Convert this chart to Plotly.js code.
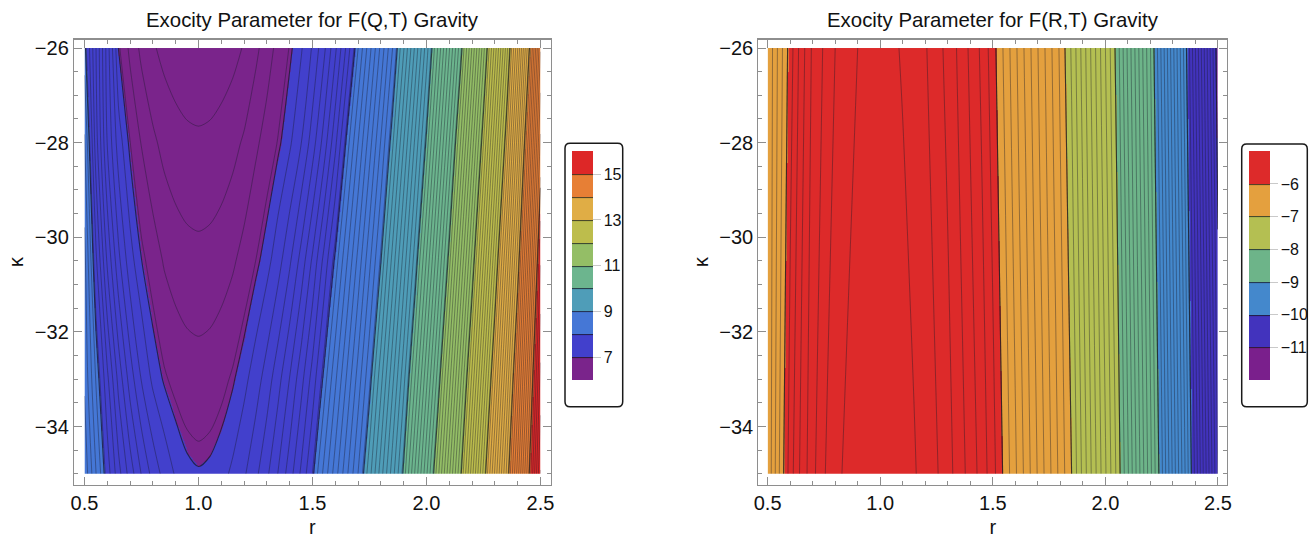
<!DOCTYPE html>
<html>
<head>
<meta charset="utf-8">
<script src="https://cdn.plot.ly/plotly-3.0.1.min.js"></script>
<style>
  html, body { margin: 0; padding: 0; background: #ffffff; }
  #chart { width: 1309px; height: 538px; }
</style>
</head>
<body>
<div id="chart"></div>
<script>
// ---------------- data ----------------
// radial coordinate r (columns of both grids)
const rValues = [0.5, 0.55, 0.6, 0.65, 0.7, 0.75, 0.8, 0.85, 0.9, 0.95, 1.0,
                 1.05, 1.1, 1.15, 1.2, 1.25, 1.3, 1.35, 1.4, 1.45, 1.5,
                 1.55, 1.6, 1.65, 1.7, 1.75, 1.8, 1.85, 1.9, 1.95, 2.0,
                 2.05, 2.1, 2.15, 2.2, 2.25, 2.3, 2.35, 2.4, 2.45, 2.5];

// F(Q,T): exoticity parameter, one row per kappa value
const kappaQT = [-35, -33, -30.5, -28, -26];
const exoQT_k350 = [8.45, 8.18, 7.93, 7.71, 7.53, 7.37, 7.24, 7.14, 7.065, 7.021, 7.007,
                    7.017, 7.046, 7.094, 7.162, 7.25, 7.356, 7.482, 7.628, 7.793, 7.977,
                    8.203, 8.428, 8.653, 8.878, 9.135, 9.429, 9.724, 10.022, 10.39, 10.757,
                    11.142, 11.558, 11.975, 12.439, 12.907, 13.392, 13.882, 14.427, 14.989, 15.583];
const exoQT_k330 = [8.36, 8.07, 7.80, 7.54, 7.33, 7.17, 7.055, 6.989, 6.949, 6.925, 6.917,
                    6.925, 6.949, 6.989, 7.048, 7.126, 7.223, 7.342, 7.48, 7.639, 7.817,
                    8.022, 8.255, 8.488, 8.721, 8.954, 9.242, 9.544, 9.845, 10.18, 10.551,
                    10.922, 11.334, 11.758, 12.203, 12.676, 13.162, 13.673, 14.211, 14.798, 15.41];
const exoQT_k305 = [8.31, 7.90, 7.56, 7.30, 7.115, 7.002, 6.93, 6.866, 6.831, 6.811, 6.804,
                    6.811, 6.829, 6.861, 6.913, 6.975, 7.042, 7.137, 7.26, 7.412, 7.594,
                    7.805, 8.022, 8.265, 8.508, 8.752, 8.995, 9.305, 9.617, 9.928, 10.288,
                    10.663, 11.043, 11.476, 11.909, 12.38, 12.861, 13.384, 13.924, 14.534, 15.167];
const exoQT_k280 = [8.19, 7.725, 7.371, 7.122, 6.978, 6.87, 6.796, 6.746, 6.716, 6.698, 6.692,
                    6.698, 6.717, 6.746, 6.789, 6.855, 6.919, 6.983, 7.059, 7.172, 7.326,
                    7.518, 7.751, 8.021, 8.276, 8.53, 8.785, 9.051, 9.374, 9.696, 10.02,
                    10.399, 10.777, 11.182, 11.625, 12.074, 12.562, 13.06, 13.633, 14.237, 14.897];
const exoQT_k260 = [8.03, 7.68, 7.33, 6.99, 6.851, 6.751, 6.688, 6.647, 6.621, 6.605, 6.600,
                    6.605, 6.618, 6.643, 6.684, 6.750, 6.829, 6.909, 6.981, 7.064, 7.187,
                    7.35, 7.554, 7.799, 8.074, 8.339, 8.603, 8.868, 9.166, 9.497, 9.828,
                    10.183, 10.565, 10.947, 11.387, 11.838, 12.317, 12.812, 13.373, 13.976, 14.667];

// F(R,T): exoticity parameter, one row per kappa value
const kappaRT = [-35, -26];
const exoRT_k350 = [-6.39, -6.11, -5.85, -5.67, -5.53, -5.41, -5.33, -5.28, -5.25, -5.23, -5.22,
                    -5.23, -5.25, -5.29, -5.34, -5.39, -5.46, -5.55, -5.64, -5.74, -5.862,
                    -6.02, -6.183, -6.346, -6.51, -6.673, -6.837, -7.0, -7.229, -7.459, -7.688,
                    -7.917, -8.187, -8.48, -8.772, -9.076, -9.424, -9.771, -10.132, -10.519, -10.907];
const exoRT_k260 = [-6.40, -6.17, -5.95, -5.75, -5.58, -5.49, -5.40, -5.35, -5.30, -5.275, -5.265,
                    -5.28, -5.31, -5.35, -5.39, -5.46, -5.53, -5.62, -5.72, -5.82, -5.955,
                    -6.116, -6.277, -6.437, -6.598, -6.759, -6.92, -7.114, -7.342, -7.571, -7.799,
                    -8.034, -8.322, -8.609, -8.897, -9.224, -9.573, -9.923, -10.3, -10.685, -11.069];

// legend bands (low -> high) and legend labels
const bandColorsQT = ['#7a248b', '#4240cc', '#4577d6', '#4f9db8', '#6cb58e',
                      '#94be66', '#bdbd4c', '#e0ad45', '#e77f35', '#dd2727'];
const bandColorsRT = ['#7a1f8c', '#4233bd', '#4488cc', '#6db489', '#b4bf52', '#e4a03e', '#dd2a2a'];
const legendTicksQT = [7, 9, 11, 13, 15];
const legendTicksRT = [-11, -10, -9, -8, -7, -6];
const xTicks = [0.5, 1.0, 1.5, 2.0, 2.5];
const yTicks = [-34, -32, -30, -28, -26];
const titleQT = 'Exocity Parameter for F(Q,T) Gravity';
const titleRT = 'Exocity Parameter for F(R,T) Gravity';

// ---------------- helpers ----------------
const W = 1309, H = 538;
const fx = p => p / W;
const fy = p => 1 - p / H;
const FONT = 'Liberation Sans, Arial, Helvetica, sans-serif';

function steppedScale(colors) {
  const n = colors.length, out = [];
  colors.forEach((c, i) => { out.push([i / n, c]); out.push([(i + 1) / n, c]); });
  return out;
}
function roundRect(x0, y0, x1, y1, rad) {
  const X = v => fx(v).toFixed(5), Y = v => fy(v).toFixed(5);
  return 'M' + X(x0 + rad) + ',' + Y(y0) + ' L' + X(x1 - rad) + ',' + Y(y0) +
    ' Q' + X(x1) + ',' + Y(y0) + ' ' + X(x1) + ',' + Y(y0 + rad) +
    ' L' + X(x1) + ',' + Y(y1 - rad) +
    ' Q' + X(x1) + ',' + Y(y1) + ' ' + X(x1 - rad) + ',' + Y(y1) +
    ' L' + X(x0 + rad) + ',' + Y(y1) +
    ' Q' + X(x0) + ',' + Y(y1) + ' ' + X(x0) + ',' + Y(y1 - rad) +
    ' L' + X(x0) + ',' + Y(y0 + rad) +
    ' Q' + X(x0) + ',' + Y(y0) + ' ' + X(x0 + rad) + ',' + Y(y0) + ' Z';
}

const zQT = [exoQT_k350, exoQT_k330, exoQT_k305, exoQT_k280, exoQT_k260];
const zRT = [exoRT_k350, exoRT_k260];

const bandLine = {color: 'rgba(20,20,25,0.68)', width: 1.1, smoothing: 0.8};
const fineLine = {color: 'rgba(25,25,40,0.44)', width: 0.9, smoothing: 0.8};

function colorbarOpts(xLeftPx, ticks) {
  return {
    x: fx(xLeftPx), xanchor: 'left', y: fy(265.7), yanchor: 'middle',
    len: 229, lenmode: 'pixels', thickness: 21, thicknessmode: 'pixels',
    xpad: 0, ypad: 0, outlinewidth: 0, borderwidth: 0, bgcolor: 'rgba(0,0,0,0)',
    tickmode: 'array', tickvals: ticks, ticks: 'outside', ticklen: 8,
    tickcolor: '#c9c9c9', tickwidth: 1,
    tickfont: {family: FONT, size: 16, color: '#111'}
  };
}

const traces = [
  {
    type: 'contour', x: rValues, y: kappaQT, z: zQT, xaxis: 'x', yaxis: 'y',
    autocontour: false, contours: {start: 7, end: 15, size: 1, coloring: 'heatmap', showlines: true},
    zauto: false, zmin: 6, zmax: 16, colorscale: steppedScale(bandColorsQT),
    line: bandLine, hoverinfo: 'skip', showscale: true,
    colorbar: colorbarOpts(572.3, legendTicksQT)
  },
  {
    type: 'contour', x: rValues, y: kappaQT, z: zQT, xaxis: 'x', yaxis: 'y',
    autocontour: false, contours: {start: 6.076, end: 15.976, size: 0.1, coloring: 'none'},
    line: fineLine, hoverinfo: 'skip', showscale: false
  },
  {
    type: 'contour', x: rValues, y: kappaRT, z: zRT, xaxis: 'x2', yaxis: 'y2',
    autocontour: false, contours: {start: -11, end: -6, size: 1, coloring: 'heatmap', showlines: true},
    zauto: false, zmin: -12, zmax: -5, colorscale: steppedScale(bandColorsRT),
    line: bandLine, hoverinfo: 'skip', showscale: true,
    colorbar: colorbarOpts(1249.3, legendTicksRT)
  },
  {
    type: 'contour', x: rValues, y: kappaRT, z: zRT, xaxis: 'x2', yaxis: 'y2',
    autocontour: false, contours: {start: -11.9, end: -5.1, size: 0.1, coloring: 'none'},
    line: fineLine, hoverinfo: 'skip', showscale: false
  }
];

const frameColor = '#8e8e8e';
function xAxis(domPx, range, anchor) {
  return {
    domain: [fx(domPx[0]), fx(domPx[1])], range: range, anchor: anchor,
    tickmode: 'array', tickvals: xTicks, tickformat: '.1f',
    ticks: 'inside', ticklen: 8, tickwidth: 1, tickcolor: frameColor,
    minor: {tickmode: 'linear', tick0: 0.5, dtick: 0.1, ticks: 'inside', ticklen: 4,
            tickwidth: 1, tickcolor: frameColor, showgrid: false},
    showline: true, linecolor: frameColor, linewidth: 1.2, mirror: 'allticks',
    showgrid: false, zeroline: false,
    tickfont: {family: FONT, size: 20, color: '#111'},
    title: {text: 'r', font: {family: FONT, size: 20, color: '#111'}, standoff: 8}
  };
}
function yAxis(domPx, range, anchor) {
  return {
    domain: [fy(domPx[1]), fy(domPx[0])], range: range, anchor: anchor,
    tickmode: 'array', tickvals: yTicks,
    ticks: 'inside', ticklen: 8, tickwidth: 1, tickcolor: frameColor,
    minor: {tickmode: 'linear', tick0: -26, dtick: 0.5, ticks: 'inside', ticklen: 4,
            tickwidth: 1, tickcolor: frameColor, showgrid: false},
    showline: true, linecolor: frameColor, linewidth: 1.2, mirror: 'allticks',
    showgrid: false, zeroline: false,
    tickfont: {family: FONT, size: 20, color: '#111'},
    title: {text: 'κ', font: {family: FONT, size: 20, color: '#111'}, standoff: 5}
  };
}

const layout = {
  width: W, height: H, margin: {l: 0, r: 0, t: 0, b: 0, autoexpand: false},
  paper_bgcolor: '#ffffff', plot_bgcolor: '#ffffff',
  font: {family: FONT, color: '#111'}, showlegend: false,
  xaxis: xAxis([74, 550.5], [0.454, 2.544], 'y'),
  yaxis: yAxis([39.5, 484.6], [-35.228, -25.82], 'x'),
  xaxis2: xAxis([758.4, 1227.2], [0.459, 2.541], 'y2'),
  yaxis2: yAxis([39.5, 484.6], [-35.228, -25.82], 'x2'),
  annotations: [
    {text: titleQT, xref: 'paper', yref: 'paper', x: fx(312.3), y: fy(20), xanchor: 'center',
     yanchor: 'middle', showarrow: false, font: {family: FONT, size: 20.4, color: '#111'}},
    {text: titleRT, xref: 'paper', yref: 'paper', x: fx(992.8), y: fy(20), xanchor: 'center',
     yanchor: 'middle', showarrow: false, font: {family: FONT, size: 20.4, color: '#111'}}
  ],
  shapes: [
    {type: 'path', xref: 'paper', yref: 'paper', path: roundRect(565, 143.3, 622.7, 406.7, 5),
     line: {color: '#1a1a1a', width: 1.5}, fillcolor: 'rgba(0,0,0,0)', layer: 'above'},
    {type: 'path', xref: 'paper', yref: 'paper', path: roundRect(1241.7, 144, 1307.3, 406.7, 5),
     line: {color: '#1a1a1a', width: 1.5}, fillcolor: 'rgba(0,0,0,0)', layer: 'above'}
  ]
};

Plotly.newPlot('chart', traces, layout, {displayModeBar: false, staticPlot: true});
</script>
</body>
</html>
